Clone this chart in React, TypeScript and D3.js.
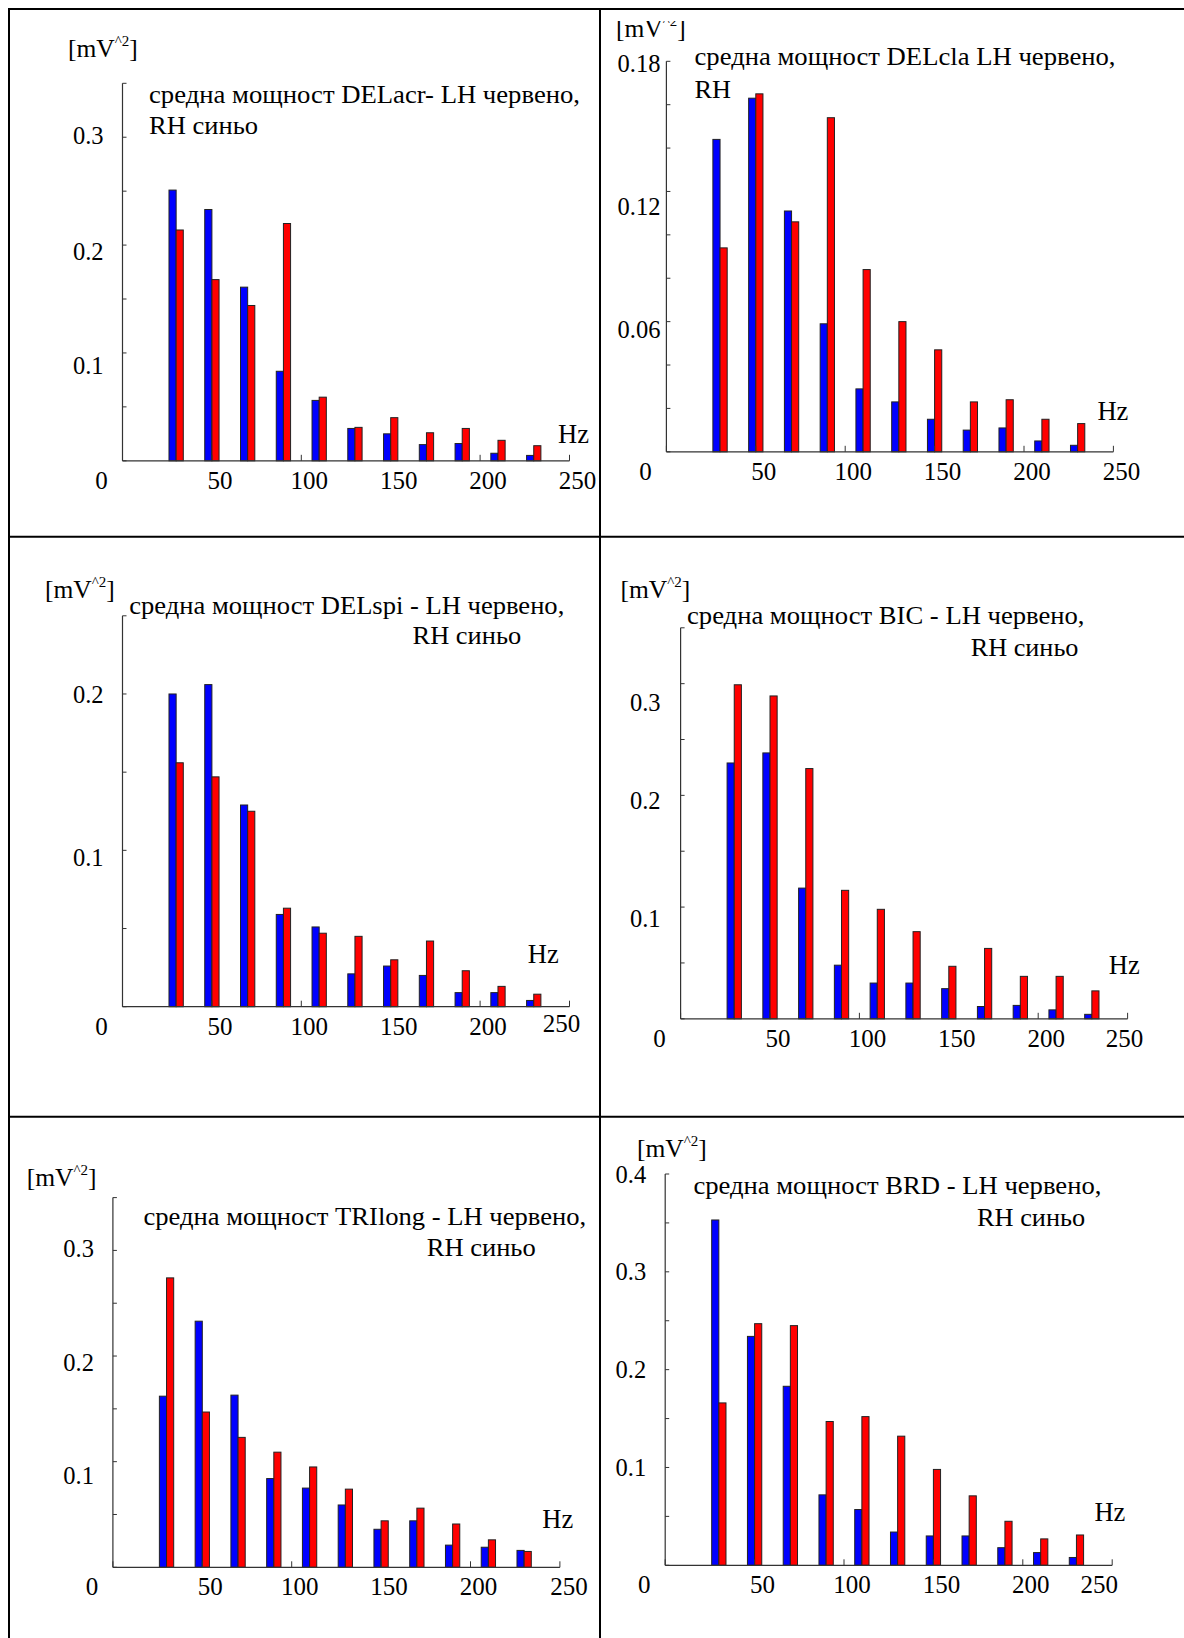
import React from 'react';
import * as d3 from 'd3';

// frequency bins (Hz), one red/blue pair per bin
const freqs = [30, 50, 70, 90, 110, 130, 150, 170, 190, 210, 230];
const xTickValues = [0, 50, 100, 150, 200, 250];

// mean power [mV^2], RH = blue, LH = red
const delAcrRH = [0.251, 0.233, 0.161, 0.083, 0.056, 0.030, 0.025, 0.015, 0.016, 0.007, 0.005];
const delAcrLH = [0.214, 0.168, 0.144, 0.220, 0.059, 0.031, 0.040, 0.026, 0.030, 0.019, 0.014];
const delClaRH = [0.144, 0.163, 0.111, 0.059, 0.029, 0.023, 0.015, 0.010, 0.011, 0.005, 0.003];
const delClaLH = [0.094, 0.165, 0.106, 0.154, 0.084, 0.060, 0.047, 0.023, 0.024, 0.015, 0.013];
const delSpiRH = [0.200, 0.206, 0.129, 0.059, 0.051, 0.021, 0.026, 0.020, 0.009, 0.009, 0.004];
const delSpiLH = [0.156, 0.147, 0.125, 0.063, 0.047, 0.045, 0.030, 0.042, 0.023, 0.013, 0.008];
const bicRH = [0.229, 0.238, 0.117, 0.048, 0.032, 0.032, 0.027, 0.011, 0.012, 0.008, 0.004];
const bicLH = [0.299, 0.289, 0.224, 0.115, 0.098, 0.078, 0.047, 0.063, 0.038, 0.038, 0.025];
const triLongRH = [0.162, 0.233, 0.163, 0.084, 0.075, 0.059, 0.036, 0.044, 0.021, 0.019, 0.016];
const triLongLH = [0.274, 0.147, 0.123, 0.109, 0.095, 0.074, 0.044, 0.056, 0.041, 0.026, 0.015];
const brdRH = [0.353, 0.234, 0.183, 0.072, 0.057, 0.034, 0.030, 0.030, 0.018, 0.013, 0.008];
const brdLH = [0.166, 0.247, 0.245, 0.147, 0.152, 0.132, 0.098, 0.071, 0.045, 0.027, 0.031];

// y axis: max, minor tick step, labelled ticks
const yMaxes = [0.35, 0.18, 0.25, 0.35, 0.35, 0.4];
const yMinorSteps = [0.05, 0.02, 0.05, 0.05, 0.05, 0.05];
const yLabelSets = [
  ['0.1', '0.2', '0.3'],
  ['0.06', '0.12', '0.18'],
  ['0.1', '0.2'],
  ['0.1', '0.2', '0.3'],
  ['0.1', '0.2', '0.3'],
  ['0.1', '0.2', '0.3', '0.4'],
];

const titleLines = [
  ['средна мощност DELacr- LH червено,', 'RH синьо'],
  ['средна мощност DELcla LH червено,', 'RH'],
  ['средна мощност DELspi - LH червено,', 'RH синьо'],
  ['средна мощност BIC - LH червено,', 'RH синьо'],
  ['средна мощност TRIlong - LH червено,', 'RH синьо'],
  ['средна мощност BRD - LH червено,', 'RH синьо'],
];
const rhSeries = [delAcrRH, delClaRH, delSpiRH, bicRH, triLongRH, brdRH];
const lhSeries = [delAcrLH, delClaLH, delSpiLH, bicLH, triLongLH, brdLH];

// page placement of each panel (in px of the 1184x1638 page)
const layout = [
  { x0: 122.5, y0: 460.8, top: 83.3, unit: [68, 57], t1: [149, 103, 431], t2: [149, 133.6, 109], hz: [589, 442.5], gap: 19, yDy: [12, 6, -2], endDx: 8, endDy: 0 },
  { x0: 666.4, y0: 451.8, top: 61.3, unit: [616, 36.5], t1: [694.5, 65.4, 421], t2: [694.5, 97.5, 36.5], hz: [1128.4, 420], gap: 6, yDy: [8, 15, 2], endDx: 8, endDy: 0 },
  { x0: 122.5, y0: 1006.7, top: 615.8, unit: [45, 597.7], t1: [129.3, 613.5, 435], t2: [412.5, 644, 108.7], hz: [558.7, 962.7], gap: 19, yDy: [7, 0], endDx: -8, endDy: -3 },
  { x0: 680.6, y0: 1018.8, top: 627.8, unit: [620.5, 597.7], t1: [687, 624, 397.5], t2: [970.7, 656, 107.8], hz: [1139.7, 974], gap: 20, yDy: [11, 5, 19], endDx: -3, endDy: 0 },
  { x0: 112.9, y0: 1567.3, top: 1197.6, unit: [26.8, 1185.8], t1: [143.5, 1224.5, 442.7], t2: [426.7, 1255.8, 109], hz: [573.2, 1527.5], gap: 19, yDy: [14, 6, -2], endDx: 9, endDy: 0 },
  { x0: 665.2, y0: 1565.3, top: 1174, unit: [637, 1157.1], t1: [693.4, 1194.2, 408], t2: [977, 1225.5, 108.2], hz: [1125.4, 1520.8], gap: 19, yDy: [0, 0, 0, 0], endDx: -13, endDy: 0 },
];

const FONT = '"Liberation Serif", "Times New Roman", serif';
const AXIS_LEN = 447;
const BAR_HZ = 4;

function Panel({ i }: { i: number }) {
  const L = layout[i];
  const x = d3.scaleLinear().domain([0, 250]).range([L.x0, L.x0 + AXIS_LEN]);
  const y = d3.scaleLinear().domain([0, yMaxes[i]]).range([L.y0, L.top]);
  const barW = x(BAR_HZ) - x(0);
  const minorTicks = d3.range(0, Math.round(yMaxes[i] / yMinorSteps[i]) + 1).map(k => k * yMinorSteps[i]);
  const clipId = `unitclip${i}`;
  return (
    <g fontFamily={FONT} fill="#000">
      {i === 1 && (
        <clipPath id={clipId}>
          <rect x={602} y={21} width={200} height={60} />
        </clipPath>
      )}
      <text x={L.unit[0]} y={L.unit[1]} fontSize={25.5} clipPath={i === 1 ? `url(#${clipId})` : undefined}>
        [mV<tspan fontSize={15} dy={-11}>^2</tspan><tspan dy={11}>]</tspan>
      </text>
      <text x={L.t1[0]} y={L.t1[1]} fontSize={24.5} textLength={L.t1[2]} lengthAdjust="spacingAndGlyphs">{titleLines[i][0]}</text>
      <text x={L.t2[0]} y={L.t2[1]} fontSize={24.5} textLength={L.t2[2]} lengthAdjust="spacingAndGlyphs">{titleLines[i][1]}</text>

      {/* bars */}
      {freqs.map((f, k) => (
        <g key={f}>
          <rect x={x(f - BAR_HZ)} y={y(rhSeries[i][k])} width={barW} height={L.y0 - y(rhSeries[i][k])}
            fill="#0000ff" stroke="#222" strokeWidth={1} />
          <rect x={x(f)} y={y(lhSeries[i][k])} width={barW} height={L.y0 - y(lhSeries[i][k])}
            fill="#ff0000" stroke="#222" strokeWidth={1} />
        </g>
      ))}

      {/* axes */}
      <line x1={L.x0} x2={L.x0} y1={y(yMaxes[i])} y2={L.y0} stroke="#333" strokeWidth={1.2} />
      <line x1={L.x0} x2={x(250)} y1={L.y0} y2={L.y0} stroke="#333" strokeWidth={1.2} />
      {minorTicks.map(v => (
        <line key={v} x1={L.x0} x2={L.x0 + 4} y1={y(v)} y2={y(v)} stroke="#333" strokeWidth={1} />
      ))}
      {xTickValues.map(v => (
        <line key={v} x1={x(v)} x2={x(v)} y1={L.y0} y2={L.y0 - 6} stroke="#333" strokeWidth={1} />
      ))}

      {yLabelSets[i].map((lab, k) => (
        <text key={lab} x={L.x0 - L.gap} y={y(+lab) + L.yDy[k]} dy="0.35em" textAnchor="end" fontSize={24.5}>{lab}</text>
      ))}
      {xTickValues.map((v, k) => {
        const last = k === xTickValues.length - 1;
        const px = v === 0 ? x(0) - 21 : x(v) + (last ? L.endDx : 8);
        return (
          <text key={v} x={px} y={L.y0 + 28 + (last ? L.endDy : 0)} textAnchor="middle" fontSize={25}>{v}</text>
        );
      })}
      <text x={L.hz[0]} y={L.hz[1]} textAnchor="end" fontSize={26.5}>Hz</text>
    </g>
  );
}

export default function App() {
  const W = 1184;
  const H = 1638;
  return (
    <div style={{ position: 'absolute', left: 0, top: 0, background: '#fff' }}>
      <svg width={W} height={H} style={{ display: 'block' }}>
        <rect width={W} height={H} fill="#fff" />
        {layout.map((_, i) => <Panel key={i} i={i} />)}
        {/* table grid */}
        <g stroke="#000" strokeWidth={2}>
          <line x1={9} x2={9} y1={8} y2={H} />
          <line x1={600} x2={600} y1={8} y2={H} />
          <line x1={8} x2={W} y1={9} y2={9} />
          <line x1={8} x2={W} y1={536.7} y2={536.7} />
          <line x1={8} x2={W} y1={1116.7} y2={1116.7} />
        </g>
      </svg>
    </div>
  );
}
